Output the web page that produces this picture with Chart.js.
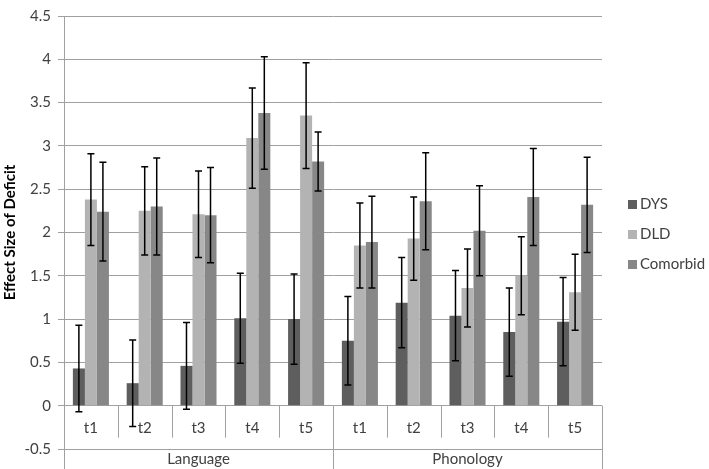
<!DOCTYPE html>
<html>
<head>
<meta charset="utf-8">
<script src="https://cdn.jsdelivr.net/npm/chart.js@4.4.0/dist/chart.umd.min.js"></script>
<style>
  html, body { margin: 0; padding: 0; background: #fff; }
  #wrap { width: 709px; height: 469px; }
</style>
</head>
<body>
<div id="wrap"><canvas id="chart"></canvas></div>
<script>
// values
const categories = ['t1', 't2', 't3', 't4', 't5', 't1', 't2', 't3', 't4', 't5'];
const groups = ['Language', 'Phonology'];
const groupSize = 5;
const seriesNames = ['DYS', 'DLD', 'Comorbid'];

const dys      = [0.43, 0.26, 0.46, 1.01, 1.00, 0.75, 1.19, 1.04, 0.85, 0.97];
const dld      = [2.38, 2.25, 2.21, 3.09, 3.35, 1.85, 1.93, 1.36, 1.50, 1.31];
const comorbid = [2.24, 2.30, 2.20, 3.38, 2.82, 1.89, 2.36, 2.02, 2.41, 2.32];

const dysErr      = [0.50, 0.50, 0.50, 0.52, 0.52, 0.51, 0.52, 0.52, 0.51, 0.51];
const dldErr      = [0.53, 0.51, 0.50, 0.58, 0.61, 0.49, 0.48, 0.45, 0.45, 0.44];
const comorbidErr = [0.57, 0.56, 0.55, 0.65, 0.34, 0.53, 0.56, 0.52, 0.56, 0.55];

const yTicks = [-0.5, 0, 0.5, 1, 1.5, 2, 2.5, 3, 3.5, 4, 4.5];

const colors = ['#5e5e5e', '#b3b3b3', '#878787'];
const gridColor = '#a0a0a0';
const textColor = '#404040';
const fontFamily = 'Lato, "Open Sans", sans-serif';

const errors = [dysErr, dldErr, comorbidErr];

// error bars drawn from the y scale
const errorBars = {
  id: 'errorBars',
  afterDatasetsDraw(chart) {
    const ctx = chart.ctx;
    const y = chart.scales.y;
    ctx.save();
    ctx.strokeStyle = '#000000';
    ctx.lineWidth = 1.5;
    chart.data.datasets.forEach((ds, di) => {
      const meta = chart.getDatasetMeta(di);
      meta.data.forEach((bar, i) => {
        const v = ds.data[i], e = errors[di][i];
        const top = y.getPixelForValue(v + e);
        const bot = y.getPixelForValue(v - e);
        ctx.beginPath();
        ctx.moveTo(bar.x, top); ctx.lineTo(bar.x, bot);
        ctx.moveTo(bar.x - 3.5, top); ctx.lineTo(bar.x + 3.5, top);
        ctx.moveTo(bar.x - 3.5, bot); ctx.lineTo(bar.x + 3.5, bot);
        ctx.stroke();
      });
    });
    ctx.restore();
  }
};

// excel style two level category table under the zero line
const categoryTable = {
  id: 'categoryTable',
  beforeDatasetsDraw(chart) {
    const ctx = chart.ctx;
    const x = chart.scales.x, y = chart.scales.y;
    const y0 = y.getPixelForValue(0);
    const yLow = y.getPixelForValue(-0.5);
    const rowBottom = y0 + 32;
    const bottom = chart.height;
    const half = (x.getPixelForValue(1) - x.getPixelForValue(0)) / 2;
    ctx.save();
    ctx.strokeStyle = gridColor;
    ctx.lineWidth = 1;
    for (let i = 0; i <= categories.length; i++) {
      const px = Math.round(x.getPixelForValue(i) - half) + 0.5;
      const edge = i % groupSize === 0;
      ctx.beginPath();
      ctx.moveTo(px, y0);
      ctx.lineTo(px, edge ? bottom : rowBottom);
      ctx.stroke();
    }
    ctx.fillStyle = textColor;
    ctx.font = '15px ' + fontFamily;
    ctx.textAlign = 'center';
    ctx.textBaseline = 'middle';
    categories.forEach((c, i) => {
      ctx.fillText(c, x.getPixelForValue(i), y0 + 22);
    });
    groups.forEach((g, gi) => {
      const cx = (x.getPixelForValue(gi * groupSize) + x.getPixelForValue(gi * groupSize + groupSize - 1)) / 2;
      ctx.fillText(g, cx, yLow + 10);
    });
    ctx.restore();
  },
  afterDraw(chart) {
    // legend on the right
    const ctx = chart.ctx;
    ctx.save();
    ctx.font = '15px ' + fontFamily;
    ctx.textBaseline = 'middle';
    ctx.textAlign = 'left';
    seriesNames.forEach((name, i) => {
      const cy = chart.height / 2 + (i - 1) * 30;
      ctx.fillStyle = colors[i];
      ctx.fillRect(628, cy - 4.5, 9, 9);
      ctx.fillStyle = textColor;
      ctx.fillText(name, 640, cy);
    });
    ctx.restore();
  }
};

new Chart(document.getElementById('chart'), {
  type: 'bar',
  data: {
    labels: categories,
    datasets: [
      { label: seriesNames[0], data: dys, backgroundColor: colors[0] },
      { label: seriesNames[1], data: dld, backgroundColor: colors[1] },
      { label: seriesNames[2], data: comorbid, backgroundColor: colors[2] }
    ]
  },
  options: {
    responsive: true,
    maintainAspectRatio: false,
    animation: false,
    layout: { padding: { top: 10, right: 107, bottom: 20, left: 0 } },
    datasets: {
      bar: { categoryPercentage: 0.67, barPercentage: 1.0 }
    },
    scales: {
      x: {
        display: false,
        offset: true
      },
      y: {
        min: -0.5,
        max: 4.5,
        afterBuildTicks: scale => { scale.ticks = yTicks.map(v => ({ value: v })); },
        afterFit: scale => { scale.width = 64; },
        ticks: {
          color: textColor,
          padding: 7,
          font: { family: fontFamily, size: 15 },
          callback: value => String(value)
        },
        grid: { color: gridColor, tickLength: 6, lineWidth: 1 },
        border: { color: gridColor },
        title: {
          display: true,
          text: 'Effect Size of Deficit',
          color: '#000000',
          padding: { top: 1, bottom: 0 },
          font: { family: fontFamily, size: 15, weight: 'bold' }
        }
      }
    },
    plugins: {
      legend: { display: false },
      tooltip: { enabled: false }
    }
  },
  plugins: [categoryTable, errorBars]
});
</script>
</body>
</html>
